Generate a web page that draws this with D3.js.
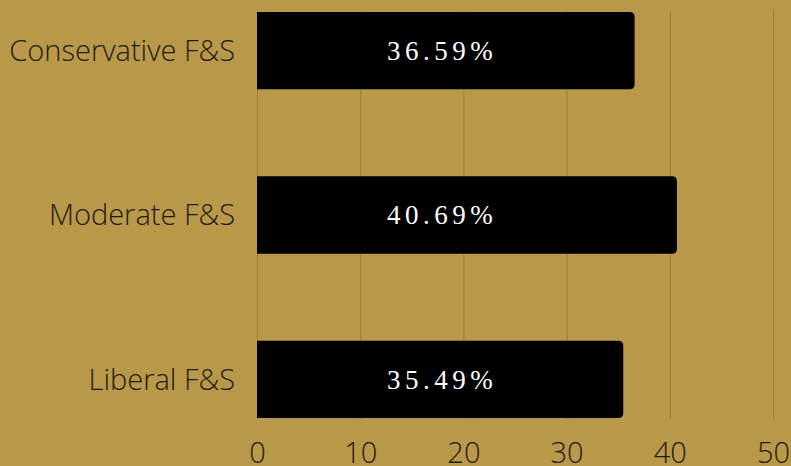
<!DOCTYPE html>
<html><head><meta charset="utf-8">
<script src="https://cdn.jsdelivr.net/npm/d3@7"></script>
<style>
html,body{margin:0;padding:0;background:#b9984a;}
svg{display:block;}
</style></head><body>
<svg id="c" width="791" height="466"></svg>
<script>
const categories = ["Conservative F&S", "Moderate F&S", "Liberal F&S"];
const values = [36.59, 40.69, 35.49];
const labels = ["36.59%", "40.69%", "35.49%"];
const ticks = [0, 10, 20, 30, 40, 50];

const W = 791, H = 466;
const svg = d3.select("#c");
svg.append("rect").attr("width", W).attr("height", H).attr("fill", "#b9984a");

const x = d3.scaleLinear().domain([0, 50]).range([257, 773]);
const y = d3.scaleBand().domain(categories).range([12, 418]).paddingInner(0.53).paddingOuter(0);

// gridlines
svg.append("g").selectAll("line").data(ticks).join("line")
  .attr("x1", d => x(d) + 0.5).attr("x2", d => x(d) + 0.5)
  .attr("y1", 11).attr("y2", 419)
  .attr("stroke", "#9d7f36").attr("stroke-width", 1);

// bars: square left, rounded right
const r = 5;
svg.append("g").selectAll("path").data(values).join("path")
  .attr("d", (d, i) => {
    const x0 = x(0), x1 = x(d), y0 = y(categories[i]), h = y.bandwidth();
    return `M${x0},${y0}H${x1 - r}Q${x1},${y0} ${x1},${y0 + r}V${y0 + h - r}Q${x1},${y0 + h} ${x1 - r},${y0 + h}H${x0}Z`;
  })
  .attr("fill", "#000");

// value labels
svg.append("g").selectAll("text").data(labels).join("text")
  .attr("x", x(0) + 185)
  .attr("y", (d, i) => y(categories[i]) + y.bandwidth() / 2)
  .attr("dy", "0.35em")
  .attr("text-anchor", "middle")
  .attr("fill", "#fff")
  .style("font-family", "'Liberation Serif', 'DejaVu Serif', serif")
  .style("font-size", "27px")
  .style("letter-spacing", "4.5px")
  .text(d => d);

// category labels
svg.append("g").selectAll("text").data(categories).join("text")
  .attr("x", 235)
  .attr("y", d => y(d) + y.bandwidth() / 2)
  .attr("dy", "0.35em")
  .attr("text-anchor", "end")
  .attr("fill", "#1e1a10")
  .style("font-family", "'Open Sans', sans-serif")
  .style("font-weight", 300)
  .style("font-size", "29px")
  .text(d => d);

// x axis tick labels
const ax = svg.append("g").attr("transform", "translate(0,463)")
  .call(d3.axisBottom(x).tickValues(ticks).tickSize(0).tickPadding(0));
ax.select(".domain").remove();
ax.selectAll("text")
  .attr("dy", "0")
  .attr("fill", "#1e1a10")
  .style("font-family", "'Open Sans', sans-serif")
  .style("font-weight", 300)
  .style("font-size", "29px");
</script>
</body></html>
